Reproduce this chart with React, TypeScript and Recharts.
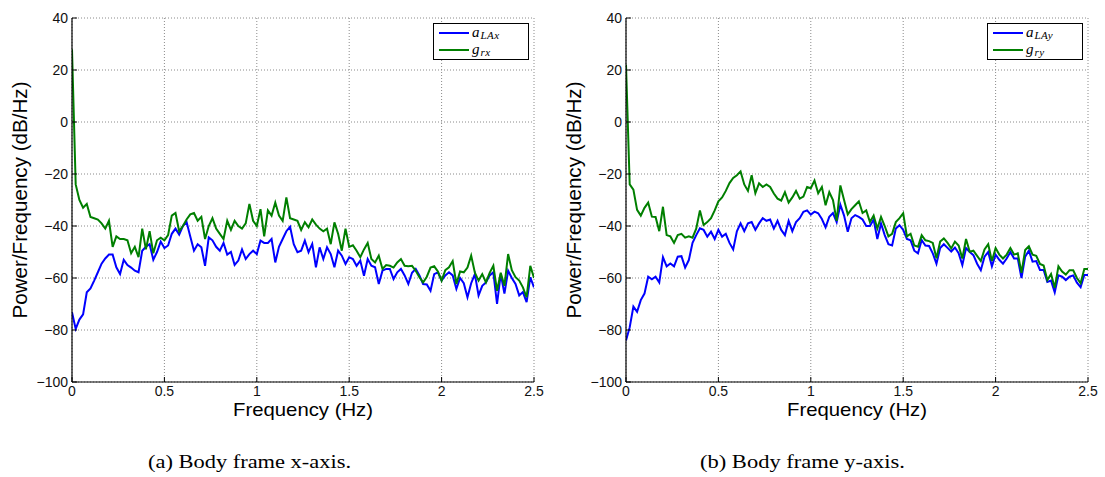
import React from 'react';
import { LineChart, Line, XAxis, YAxis, CartesianGrid, Legend } from 'recharts';

// Frequency bins (Hz)
const freq = [
  0, 0.02, 0.04, 0.06, 0.08, 0.1, 0.12, 0.14, 0.16, 0.18,
  0.2, 0.22, 0.24, 0.26, 0.28, 0.3, 0.32, 0.34, 0.36, 0.38,
  0.4, 0.42, 0.44, 0.46, 0.48, 0.5, 0.52, 0.54, 0.56, 0.58,
  0.6, 0.62, 0.64, 0.66, 0.68, 0.7, 0.72, 0.74, 0.76, 0.78,
  0.8, 0.82, 0.84, 0.86, 0.88, 0.9, 0.92, 0.94, 0.96, 0.98,
  1.0, 1.02, 1.04, 1.06, 1.08, 1.1, 1.12, 1.14, 1.16, 1.18,
  1.2, 1.22, 1.24, 1.26, 1.28, 1.3, 1.32, 1.34, 1.36, 1.38,
  1.4, 1.42, 1.44, 1.46, 1.48, 1.5, 1.52, 1.54, 1.56, 1.58,
  1.6, 1.62, 1.64, 1.66, 1.68, 1.7, 1.72, 1.74, 1.76, 1.78,
  1.8, 1.82, 1.84, 1.86, 1.88, 1.9, 1.92, 1.94, 1.96, 1.98,
  2.0, 2.02, 2.04, 2.06, 2.08, 2.1, 2.12, 2.14, 2.16, 2.18,
  2.2, 2.22, 2.24, 2.26, 2.28, 2.3, 2.32, 2.34, 2.36, 2.38,
  2.4, 2.42, 2.44, 2.46, 2.48, 2.5,
];

// (a) Body frame x-axis
const aLAx = [
  -73.2, -79.6, -76, -74, -65.5, -64, -61, -57.8, -54.5, -52.5,
  -51, -51, -55.9, -58.5, -53, -55, -56, -57.2, -57.8, -49.5,
  -48, -47, -53, -50, -46, -48.5, -47.5, -43, -41, -43.3,
  -40, -38.5, -44, -49.5, -47, -48.2, -55.3, -44.4, -45.5, -48,
  -49.5, -46.5, -51, -50, -55, -53.3, -49, -52.7, -50.8, -49.5,
  -50.8, -45.6, -46.5, -46.5, -45, -54, -48, -45, -42, -40.3,
  -47, -50.1, -49.5, -45.6, -50.1, -46.9, -55.9, -48.2, -52.7, -48.2,
  -50.8, -55.9, -49.5, -51.4, -54.6, -52, -52.7, -55.3, -53.3, -59.1,
  -52.7, -55.3, -55.9, -62.3, -57.2, -56.5, -56.5, -60.4, -57.8, -56.5,
  -59, -62.3, -58, -56.5, -59, -62.3, -62.5, -64.9, -58.5, -57.8,
  -61, -59, -57.8, -59, -64.2, -60, -62, -67.4, -62, -58.5,
  -66.7, -63, -61.7, -59, -57.8, -70, -58.5, -66, -57.2, -60,
  -62.3, -66.7, -65.4, -69.3, -59.7, -63.6,
];
const grx = [
  28, -24, -30, -33, -31.5, -36.5, -37, -37.5, -39, -41,
  -38, -48, -44, -45, -45, -45.5, -50.5, -48, -52, -41,
  -49, -42, -50.5, -45.5, -44.5, -45.5, -43.5, -36, -35, -42,
  -40, -37.5, -35.5, -35, -38, -36.5, -45, -40, -37, -41,
  -43, -45, -38, -41.5, -38, -40, -41, -39, -31.5, -38,
  -40, -33.5, -44, -34, -36, -31, -36, -38, -29, -37,
  -37.5, -38, -41.5, -38.5, -40.5, -37.5, -39.5, -41, -42, -41,
  -47, -38.6, -43, -49.5, -41, -48, -47.4, -49.5, -52, -49,
  -46.5, -52.7, -54, -51.4, -56.5, -55, -55.3, -56, -54, -52.7,
  -55.3, -55.5, -55.3, -57.2, -59.7, -61.7, -59.5, -56, -55.5, -57.5,
  -61, -57, -55.9, -53.5, -62.3, -57.5, -57.8, -56, -51.4, -58,
  -61, -58.5, -61.7, -58, -55.3, -64.9, -58, -63, -50.8, -57,
  -59.7, -61, -63.6, -67.4, -55.3, -60,
];

// (b) Body frame y-axis
const aLAy = [
  -84, -79, -71, -73, -68.5, -66, -59.5, -60.5, -59.5, -61.7,
  -52, -55.5, -54.4, -55.5, -51.8, -51.6, -56, -53.1, -46.5, -43.5,
  -40.9, -41.5, -44.1, -42.2, -45, -41.5, -44.1, -43, -46.5, -49,
  -42, -39, -42, -39, -38.5, -41.5, -39, -37, -38, -37.5,
  -41, -38, -41.5, -43.5, -38, -42, -38.5, -37, -34.5, -34,
  -35.6, -34.5, -35.1, -37.3, -40.5, -36.5, -35, -38.5, -31.8, -36,
  -42.2, -37, -35.8, -36.5, -37.5, -40, -40, -37.5, -45, -39,
  -43.5, -47, -47.5, -41, -39.7, -41.5, -45, -45.5, -49.5, -50.5,
  -45.4, -47.5, -47.7, -50.5, -54.5, -48.5, -47, -48.4, -49.8, -48.3,
  -50.5, -55, -48.5, -50, -51.2, -54.5, -57, -51.8, -50, -55.5,
  -51, -53, -54.5, -52.5, -50, -52.5, -52.5, -60, -51.8, -49.5,
  -53.7, -53.5, -56.9, -56.9, -61.5, -61, -65.5, -59, -59.5, -60.8,
  -59.5, -59, -61.8, -63.5, -58.8, -58.8,
];
const gry = [
  22, -24, -26, -33.8, -36, -33, -31, -36.4, -36.5, -42,
  -32.6, -43.5, -44, -46.5, -43.5, -43, -44.5, -44, -44.5, -41,
  -34, -39.6, -38.5, -37, -34, -30.5, -29, -26.5, -23.5, -21.5,
  -20.5, -19, -24, -26.5, -20.5, -27.4, -23.6, -25, -24, -25,
  -27.5, -29.5, -30.2, -27, -31, -29, -26.5, -29.5, -28.7, -25,
  -25.5, -22.5, -27.4, -25, -32, -27, -30, -38, -24.4, -30,
  -35.5, -33.5, -32, -30.5, -35, -34, -38.5, -36, -41, -36.5,
  -40, -44, -43, -38.5, -37, -35.1, -44, -43, -47.5, -48,
  -43.5, -45.5, -45.8, -46.5, -52.4, -46, -44.8, -46.5, -48.6, -46,
  -47.5, -52.5, -45, -49.9, -49.5, -51.5, -53.5, -49, -47, -53.5,
  -48.5, -51, -52.5, -51, -48.5, -51, -50.5, -58, -49.2, -47.8,
  -51, -51.5, -54.6, -55.2, -60.8, -58.5, -63.8, -55.5, -57.5, -58.7,
  -57, -57, -60, -62, -56.5, -56.5,
];

const xTicks = [0, 0.5, 1, 1.5, 2, 2.5];
const yTicks = [-100, -80, -60, -40, -20, 0, 20, 40];
const seriesBase = ['a', 'g'];
const leftSubs = ['LAx', 'rx'];
const rightSubs = ['LAy', 'ry'];
const captions = ['(a) Body frame x-axis.', '(b) Body frame y-axis.'];

const BLUE = '#0000ff';
const GREEN = '#007f00';
const SANS = '"Liberation Sans", Arial, Helvetica, sans-serif';
const SERIF = '"Liberation Serif", "Times New Roman", serif';

const fmt = (v: number) => String(v).replace('-', '\u2212');
const blank = () => '';

const XLabel = (props: any) => {
  const vb = props.viewBox || { x: 72, y: 382, width: 462, height: 40 };
  return (
    <text x={vb.x + vb.width / 2} y={vb.y + 34} textAnchor="middle" fontFamily={SANS} fontSize={19}
      fill="#000" textLength={140} lengthAdjust="spacingAndGlyphs">Frequency (Hz)</text>
  );
};

const YLabel = (props: any) => {
  const vb = props.viewBox || { x: 0, y: 18, width: 72, height: 364 };
  const cx = vb.x + 27;
  const cy = vb.y + vb.height / 2;
  return (
    <text x={cx} y={cy} transform={`rotate(-90 ${cx} ${cy})`} textAnchor="middle" fontFamily={SANS}
      fontSize={20} fill="#000" textLength={237} lengthAdjust="spacingAndGlyphs">Power/Frequency (dB/Hz)</text>
  );
};

const LegendBox = (props: any) => {
  const payload = props.payload || [];
  return (
    <div style={{ border: '1.5px solid #000', background: '#fff', boxSizing: 'border-box', width: 96,
      padding: '0px 4px 1px 5px' }}>
      {payload.map((p: any) => {
        const [base, sub] = String(p.value).split('_');
        return (
          <div key={p.value} style={{ display: 'flex', alignItems: 'center', height: 17 }}>
            <span style={{ display: 'inline-block', width: 30, height: 2, background: p.color, marginRight: 3 }} />
            <span style={{ fontFamily: SERIF, fontStyle: 'italic', fontSize: 15, lineHeight: '15px', color: '#000' }}>
              {base}
            </span>
            <span style={{ fontFamily: SERIF, fontStyle: 'italic', fontSize: 11, lineHeight: '11px', color: '#000',
              position: 'relative', top: 3, marginLeft: 1, letterSpacing: 0.5 }}>{sub}</span>
          </div>
        );
      })}
    </div>
  );
};

function Panel({ a, g, subs, width, right }: { a: number[]; g: number[]; subs: string[]; width: number; right: number }) {
  const data = freq.map((f, i) => ({ f, a: a[i], g: g[i] }));
  const tickStyle = { fontSize: 14, fill: '#111', fontFamily: SANS };
  return (
    <LineChart width={width} height={422} data={data} margin={{ top: 18, right, left: 0, bottom: 0 }}>
      <CartesianGrid stroke="#8a8a8a" strokeDasharray="1 2" />
      <XAxis dataKey="f" type="number" domain={[0, 2.5]} ticks={xTicks} allowDataOverflow height={40}
        tickFormatter={fmt} tick={tickStyle} tickSize={-5} tickMargin={9}
        axisLine={{ stroke: '#000', strokeWidth: 1.2 }} tickLine={{ stroke: '#000' }} label={<XLabel />} />
      <XAxis xAxisId="top" orientation="top" dataKey="f" type="number" domain={[0, 2.5]} ticks={xTicks}
        allowDataOverflow height={0} tickFormatter={blank} tickSize={-5}
        axisLine={{ stroke: '#000', strokeWidth: 1.2 }} tickLine={{ stroke: '#000' }} />
      <YAxis type="number" domain={[-100, 40]} ticks={yTicks} allowDataOverflow width={72}
        tickFormatter={fmt} tick={tickStyle} tickSize={-5} tickMargin={9}
        axisLine={{ stroke: '#000', strokeWidth: 1.2 }} tickLine={{ stroke: '#000' }} label={<YLabel />} />
      <YAxis yAxisId="right" orientation="right" type="number" domain={[-100, 40]} ticks={yTicks}
        allowDataOverflow width={0} tickFormatter={blank} tickSize={-5}
        axisLine={{ stroke: '#000', strokeWidth: 1.2 }} tickLine={{ stroke: '#000' }} />
      <Legend layout="vertical" align="center" verticalAlign="middle" content={<LegendBox />}
        wrapperStyle={{ position: 'absolute', left: width - right - 101, top: 23, width: 96 }} />
      <Line dataKey="a" name={`${seriesBase[0]}_${subs[0]}`} stroke={BLUE} strokeWidth={2} dot={false}
        type="linear" isAnimationActive={false} />
      <Line dataKey="g" name={`${seriesBase[1]}_${subs[1]}`} stroke={GREEN} strokeWidth={2} dot={false}
        type="linear" isAnimationActive={false} />
    </LineChart>
  );
}

export default function App() {
  return (
    <div style={{ position: 'absolute', left: 0, top: 0, width: 1105, height: 477, background: '#fff' }}>
      <div style={{ position: 'absolute', left: 0, top: 0 }}>
        <Panel a={aLAx} g={grx} subs={leftSubs} width={554} right={20} />
      </div>
      <div style={{ position: 'absolute', left: 554, top: 0 }}>
        <Panel a={aLAy} g={gry} subs={rightSubs} width={551} right={17} />
      </div>
      <svg style={{ position: 'absolute', left: 0, top: 0 }} width={1105} height={477} pointerEvents="none">
        <text x={249.5} y={468} textAnchor="middle" fontFamily={SERIF} fontSize={19} fill="#000"
          textLength={203} lengthAdjust="spacingAndGlyphs">{captions[0]}</text>
        <text x={802.5} y={468} textAnchor="middle" fontFamily={SERIF} fontSize={19} fill="#000"
          textLength={205} lengthAdjust="spacingAndGlyphs">{captions[1]}</text>
      </svg>
    </div>
  );
}
